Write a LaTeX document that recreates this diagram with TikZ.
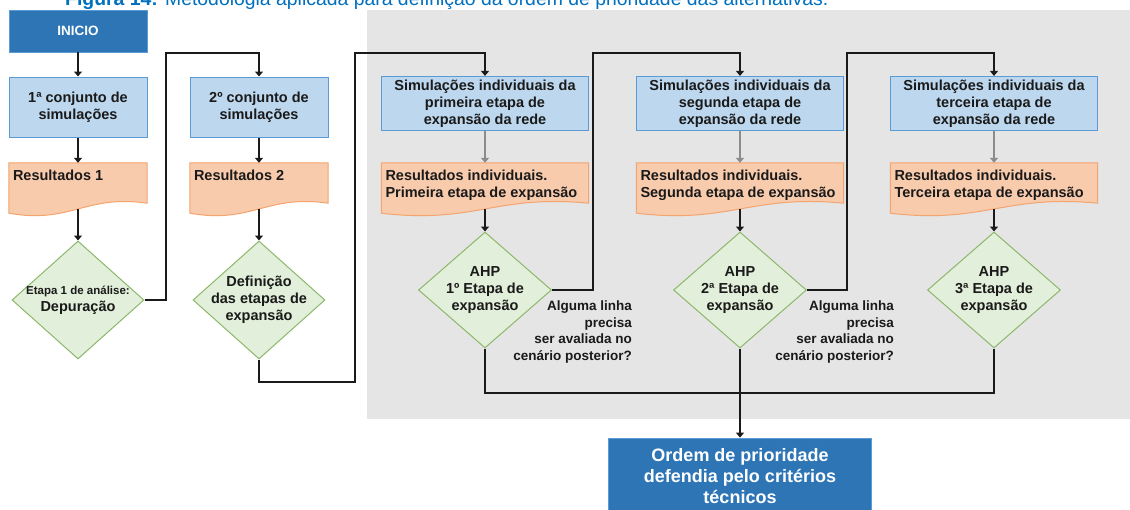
\documentclass[tikz,border=0pt]{standalone}
\usepackage{fontspec}
\setmainfont{Liberation Sans}
\usetikzlibrary{shapes.geometric,arrows.meta,calc}
\pgfdeclarelayer{bg}\pgfdeclarelayer{mid}\pgfsetlayers{bg,mid,main}
\definecolor{dblue}{HTML}{2E75B6}
\definecolor{lbfill}{HTML}{BDD7EE}
\definecolor{lbdraw}{HTML}{5B9BD5}
\definecolor{orfill}{HTML}{F8CBAD}
\definecolor{ordraw}{HTML}{F4A46E}
\definecolor{grfill}{HTML}{E2EFDA}
\definecolor{grdraw}{HTML}{8CB86B}
\definecolor{graybg}{HTML}{E5E5E5}
\definecolor{ink}{HTML}{1A1A1A}
\definecolor{titleblue}{HTML}{0070C0}
\tikzset{
  x=1pt, y=-1pt,
  txt/.style={font=\fontsize{14.5}{17}\selectfont\bfseries, text=ink},
  startbox/.style={rectangle, fill=dblue, draw=lbdraw, line width=0.8pt, minimum width=138pt, minimum height=42pt, text=white, font=\fontsize{13.5}{16}\selectfont\bfseries},
  endbox/.style={rectangle, fill=dblue, draw=lbdraw, line width=0.8pt, minimum width=263pt, minimum height=76pt, text=white, align=center, font=\fontsize{18}{21}\selectfont\bfseries},
  simbox/.style={rectangle, fill=lbfill, draw=lbdraw, line width=1pt, align=center, txt},
  resnode/.style={rectangle, minimum height=46pt, inner sep=0pt},
  reslabel/.style={anchor=north west, align=left, inner sep=0pt, xshift=4pt, yshift=-7pt, txt},
  decision/.style={diamond, fill=grfill, draw=grdraw, line width=1pt, inner sep=0pt, minimum width=132pt, minimum height=117pt},
  dlabel/.style={align=center, txt},
  question/.style={align=right, font=\fontsize{13.5}{16.7}\selectfont\bfseries, text=ink, inner sep=0pt},
  conn/.style={draw=ink, line width=1.4pt},
  arr/.style={conn, -{Triangle[width=8pt,length=5pt]}},
  garr/.style={draw=gray!90, line width=1.4pt, -{Triangle[width=8pt,length=5pt]}},
}
\newcommand\docshp[1]{%
  \begin{pgfonlayer}{mid}
  \filldraw[fill=orfill, draw=ordraw, line width=1pt]
    (#1.north west) -- (#1.north east) -- ($(#1.south east)+(0,-6)$)
    .. controls ($(#1.south east)!0.45!(#1.south west)+(0,-15)$)
       and ($(#1.south west)!0.45!(#1.south east)+(0,15)$) ..
    ($(#1.south west)+(0,4)$) -- cycle;
  \end{pgfonlayer}}
\begin{document}
\begin{tikzpicture}
\useasboundingbox (0,0) rectangle (1130,509);
\begin{pgfonlayer}{bg}
  \fill[white] (0,0) rectangle (1130,509);
  \fill[graybg] (367,10) rectangle (1130,419);
\end{pgfonlayer}
% title (cut off at the top)
\node[anchor=base west, inner sep=0pt, text=titleblue, font=\fontsize{19.4}{22}\selectfont] (title) at (65,5)
  {\textbf{Figura 14:} Metodologia aplicada para definição da ordem de prioridade das alternativas.};
% column 1
\node[startbox] (ini) at (78,31) {INICIO};
\node[simbox, minimum width=138pt, minimum height=60pt] (b1) at (78,107) {1ª conjunto de\\simulações};
\node[resnode, minimum width=138pt, label={[reslabel]north west:{Resultados 1}}] (r1) at (78,186) {};
\docshp{r1}
\node[decision, minimum height=118pt, label={[dlabel]center:{{\fontsize{11.5}{14}\selectfont Etapa 1 de análise:}\\Depuração}}] (d1) at (78,300) {};
% column 2
\node[simbox, minimum width=138pt, minimum height=60pt] (b2) at (259,107) {2º conjunto de\\simulações};
\node[resnode, minimum width=138pt, label={[reslabel]north west:{Resultados 2}}] (r2) at (259,186) {};
\docshp{r2}
\node[decision, minimum height=118pt, label={[dlabel]center:{Definição\\das etapas de\\expansão}}] (d2) at (259,300) {};
% column 3
\node[simbox, minimum width=207pt, minimum height=53pt] (b3) at (485,103.5) {Simulações individuais da\\primeira etapa de\\expansão da rede};
\node[resnode, minimum width=207pt, label={[reslabel]north west:{Resultados individuais.\\Primeira etapa de expansão}}] (r3) at (485,186) {};
\docshp{r3}
\node[decision, minimum width=133pt, minimum height=116pt, label={[dlabel]center:{AHP\\1º Etapa de\\expansão}}] (d3) at (485,290) {};
\node[question, anchor=east] (q1) at (632,332) {Alguma linha\\precisa\\ser avaliada no\\cenário posterior?};
% column 4
\node[simbox, minimum width=207pt, minimum height=53pt] (b4) at (740,103.5) {Simulações individuais da\\segunda etapa de\\expansão da rede};
\node[resnode, minimum width=207pt, label={[reslabel]north west:{Resultados individuais.\\Segunda etapa de expansão}}] (r4) at (740,186) {};
\docshp{r4}
\node[decision, minimum width=133pt, minimum height=116pt, label={[dlabel]center:{AHP\\2ª Etapa de\\expansão}}] (d4) at (740,290) {};
\node[question, anchor=east] (q2) at (894,332) {Alguma linha\\precisa\\ser avaliada no\\cenário posterior?};
% column 5
\node[simbox, minimum width=207pt, minimum height=53pt] (b5) at (994,103.5) {Simulações individuais da\\terceira etapa de\\expansão da rede};
\node[resnode, minimum width=207pt, label={[reslabel]north west:{Resultados individuais.\\Terceira etapa de expansão}}] (r5) at (994,186) {};
\docshp{r5}
\node[decision, minimum width=133pt, minimum height=116pt, label={[dlabel]center:{AHP\\3ª Etapa de\\expansão}}] (d5) at (994,290) {};
% final
\node[endbox] (fin) at (740,476) {Ordem de prioridade\\defendia pelo critérios\\técnicos};
% routing points
\coordinate (k1) at (166,53);
\coordinate (k2) at (355,382);
\coordinate (k3) at (355,53);
\coordinate (k4) at (593,53);
\coordinate (k5) at (847,53);
\coordinate (k6) at (740,393);
% connectors
\draw[arr] (ini) -- (b1);
\draw[arr] (b1) -- (r1);
\draw[arr] (r1) -- (d1);
\draw[arr] (d1.east) -| (k1) -| (b2.north);
\draw[arr] (b2) -- (r2);
\draw[arr] (r2) -- (d2);
\draw[arr] (d2.south) |- (k2) -- (k3) -| (b3.north);
\draw[garr] (b3) -- (r3);
\draw[arr] (r3) -- (d3);
\draw[arr] (d3.east) -| (k4) -| (b4.north);
\draw[garr] (b4) -- (r4);
\draw[arr] (r4) -- (d4);
\draw[arr] (d4.east) -| (k5) -| (b5.north);
\draw[garr] (b5) -- (r5);
\draw[arr] (r5) -- (d5);
\draw[conn] (d3.south) |- (k6) -| (d5.south);
\draw[arr] (d4.south) -- (fin.north);
\end{tikzpicture}
\end{document}
